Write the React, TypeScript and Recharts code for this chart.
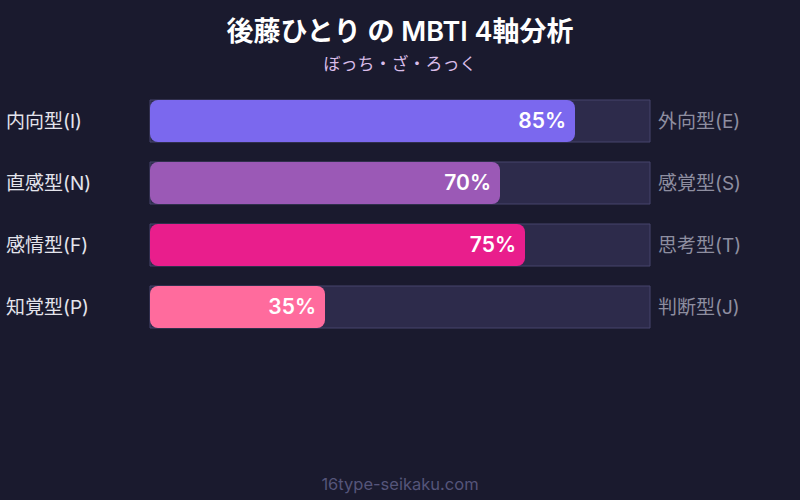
import { BarChart, Bar, XAxis, YAxis, Cell, LabelList } from "recharts";

const leftLabels = ["内向型(I)", "直感型(N)", "感情型(F)", "知覚型(P)"];
const rightLabels = ["外向型(E)", "感覚型(S)", "思考型(T)", "判断型(J)"];
const scores = [85, 70, 75, 35];
const barColors = ["#7b68ee", "#9b59b6", "#e91e8c", "#ff6b9d"];

const data = leftLabels.map((name, i) => ({
  name,
  opposite: rightLabels[i],
  value: scores[i],
}));

const FONT = "Inter, 'Noto Sans CJK JP', sans-serif";

const LeftTick = (props: any) => {
  const { y, payload } = props;
  return (
    <text x={6} y={y} dy={7} textAnchor="start" fill="#e4e4ec" fontSize={19} fontFamily={FONT}>
      {payload.value}
    </text>
  );
};

const RightTick = (props: any) => {
  const { y, payload } = props;
  return (
    <text x={658} y={y} dy={7} textAnchor="start" fill="#8e8ea0" fontSize={19} fontFamily={FONT}>
      {payload.value}
    </text>
  );
};

export default function App() {
  return (
    <div style={{ position: "fixed", left: 0, top: 0, width: 800, height: 500, background: "#1a1a2e", fontFamily: FONT }}>
      <div style={{ position: "absolute", top: 14, width: 800, textAlign: "center", color: "#ffffff", fontSize: 27, fontWeight: 600, lineHeight: "36px" }}>
        後藤ひとり の MBTI 4軸分析
      </div>
      <div style={{ position: "absolute", top: 51, width: 800, textAlign: "center", color: "#d9bde9", fontSize: 17, lineHeight: "26px" }}>
        ぼっち・ざ・ろっく
      </div>
      <BarChart
        width={800}
        height={500}
        data={data}
        layout="vertical"
        margin={{ top: 90, right: 0, left: 0, bottom: 162 }}
        barSize={42}
      >
        <XAxis type="number" domain={[0, 100]} hide />
        <YAxis yAxisId="left" type="category" dataKey="name" width={150} axisLine={false} tickLine={false} tick={<LeftTick />} />
        <YAxis yAxisId="right" orientation="right" type="category" dataKey="opposite" width={150} axisLine={false} tickLine={false} tick={<RightTick />} />
        <Bar
          yAxisId="left"
          dataKey="value"
          radius={8}
          isAnimationActive={false}
          background={{ fill: "#2d2b4b", stroke: "#46456c", strokeWidth: 1 }}
        >
          {data.map((d, i) => (
            <Cell key={d.name} fill={barColors[i]} />
          ))}
          <LabelList
            dataKey="value"
            position="insideRight"
            offset={9}
            formatter={(v: any) => `${v}%`}
            fill="#ffffff"
            fontSize={21}
            fontWeight={600}
            fontFamily={FONT}
          />
        </Bar>
      </BarChart>
      <div style={{ position: "absolute", top: 473, width: 800, textAlign: "center", color: "#55557a", fontSize: 16.5, lineHeight: "22px" }}>
        16type-seikaku.com
      </div>
    </div>
  );
}
